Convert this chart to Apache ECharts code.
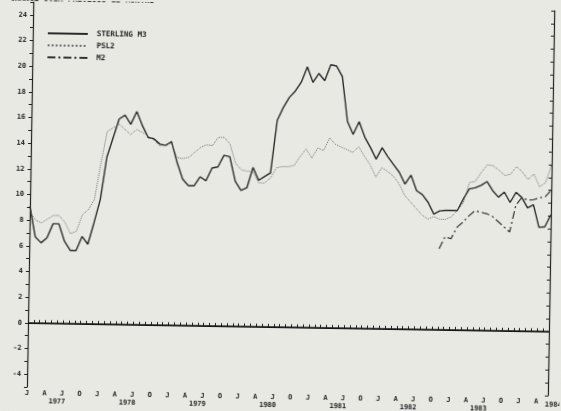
<!DOCTYPE html>
<html>
<head>
<meta charset="utf-8">
<script src="https://cdn.jsdelivr.net/npm/echarts@6/dist/echarts.min.js"></script>
<style>
html,body{margin:0;padding:0;background:#e9e9e4;overflow:hidden;}
/* the scan is tilted a little, so the whole chart is turned to match */
#chart-panel{width:561px;height:411px;transform:rotate(0.95deg);transform-origin:28px 323px;}
</style>
</head>
<body>
<div id="chart-panel"></div>
<script>
// tick letters and years
var monthLetters = ['J','F','M','A','M','J','J','A','S','O','N','D'];
var years = [1977, 1978, 1979, 1980, 1981, 1982, 1983, 1984];
var lastYearMonths = 6; // axis runs Jan 1977 .. Jun 1984

// % change over previous 12 months, monthly from Jan 1977
var sterlingM3 = [
    9.1, 6.7, 6.25, 6.65, 7.75, 7.75, 6.4, 5.7, 5.7, 6.8,
    6.2, 7.9, 9.7, 13.0, 14.5, 16.0, 16.3, 15.6, 16.6, 15.5,
    14.6, 14.5, 14.1, 14.0, 14.3, 12.7, 11.4, 10.9, 10.9, 11.6,
    11.3, 12.3, 12.4, 13.3, 13.2, 11.3, 10.6, 10.8, 12.4, 11.4,
    11.7, 12.0, 16.1, 17.1, 17.9, 18.4, 19.1, 20.3, 19.1, 19.8,
    19.25, 20.5, 20.4, 19.6, 16.1, 15.1, 16.1, 14.9, 14.1, 13.2,
    14.1, 13.4, 12.8, 12.2, 11.3, 12.0, 10.8, 10.5, 9.9, 9.0,
    9.25, 9.3, 9.3, 9.3, 10.2, 11.0, 11.1, 11.3, 11.6, 10.9,
    10.4, 10.8, 10.0, 10.8, 10.4, 9.6, 9.85, 8.1, 8.15, 9.1
];
var psl2 = [
    8.7, 8.0, 7.8, 8.1, 8.4, 8.4, 7.9, 7.0, 7.2, 8.5,
    8.9, 9.7, 12.5, 15.0, 15.3, 15.6, 15.2, 14.8, 15.2, 15.0,
    14.7, 14.4, 13.95, 14.05, 14.2, 13.05, 13.0, 13.1, 13.5, 13.9,
    14.1, 14.05, 14.7, 14.7, 14.2, 12.7, 12.2, 12.1, 12.05, 11.2,
    11.2, 11.6, 12.4, 12.5, 12.5, 12.6, 13.3, 13.9, 13.2, 14.0,
    13.8, 14.8, 14.3, 14.1, 13.9, 13.7, 14.15, 13.4, 12.75, 11.8,
    12.55, 12.25, 11.9, 11.3, 10.4, 9.9, 9.4, 8.9, 8.6, 8.8,
    8.6, 8.6, 8.8, 9.3, 9.9, 11.5, 11.6, 12.3, 12.9, 12.85,
    12.5, 12.1, 12.2, 12.8, 12.4, 11.8, 12.25, 11.25, 11.6, 13.0
];
var m2Start = 70; // M2 begins Nov 1982
var m2 = [
    6.3, 7.25, 7.1, 8.0, 8.4, 8.9, 9.3, 9.2, 9.1, 8.9,
    8.5, 8.1, 7.7, 9.8, 10.4, 10.2, 10.25, 10.4, 10.5, 11.0
];

// build month categories
var months = [];
years.forEach(function (y, i) {
    var n = (i == years.length - 1) ? lastYearMonths : 12;
    for (var k = 0; k < n; k++) months.push(y + '-' + (k + 1));
});
var m2Data = months.map(function (d, i) {
    return i >= m2Start ? m2[i - m2Start] : null;
});

var font = 'DejaVu Sans Mono';
var ink = '#232323';

var chart = echarts.init(document.getElementById('chart-panel'));
chart.setOption({
    backgroundColor: '#e9e9e4',
    animation: false,
    graphic: [{
        type: 'text', x: -5, y: -5,
        style: {text: '% CHANGE OVER PREVIOUS 12 MONTHS', font: 'bold 8px ' + font, fill: '#333'}
    }, {
        // year under the right end of the axis
        type: 'text', x: 546, y: 393,
        style: {text: String(years[years.length - 1]), font: 'bold 7px ' + font, fill: ink}
    }],
    legend: {
        orient: 'vertical', left: 37, top: 24,
        itemWidth: 40, itemHeight: 9, itemGap: 4,
        itemStyle: {opacity: 0},
        textStyle: {fontFamily: font, fontWeight: 'bold', fontSize: 7.5, color: ink, padding: [0, 0, 0, 4]},
        data: ['STERLING M3', 'PSL2', 'M2']
    },
    grid: {left: 28, right: 12, top: 2, bottom: 24},
    xAxis: {
        type: 'category',
        data: months,
        boundaryGap: false,
        axisLine: {lineStyle: {color: ink, width: 1.2}},
        axisTick: {inside: true, length: 3, interval: 0, lineStyle: {color: ink}},
        axisLabel: {
            interval: function (i) { return i % 3 == 0; },
            margin: 2,
            fontFamily: font, fontWeight: 'bold', fontSize: 7, color: ink, lineHeight: 8,
            formatter: function (val, i) {
                var mo = i % 12;
                var yr = years[Math.floor(i / 12)];
                if (mo == 6) return 'J\n{y|' + yr + '}';
                return monthLetters[mo];
            },
            rich: {
                y: {fontFamily: font, fontWeight: 'bold', fontSize: 7, color: ink, lineHeight: 8, padding: [0, 10, 0, 0]}
            }
        },
        splitLine: {show: false}
    },
    yAxis: [{
        type: 'value', min: -5, max: 25, interval: 1,
        axisLine: {show: true, lineStyle: {color: ink, width: 1.2}},
        axisTick: {show: true, length: 3, lineStyle: {color: ink}},
        axisLabel: {
            margin: 6, fontFamily: font, fontWeight: 'bold', fontSize: 7, color: ink,
            formatter: function (v) { return v % 2 == 0 ? String(v) : ''; }
        },
        splitLine: {show: false}
    }, {
        type: 'value', min: -5, max: 25, interval: 1, position: 'right',
        axisLine: {show: true, lineStyle: {color: ink, width: 1.2}},
        axisTick: {show: true, inside: true, length: 3, lineStyle: {color: ink}},
        axisLabel: {show: false},
        splitLine: {show: false}
    }],
    series: [{
        name: 'STERLING M3', type: 'line', data: sterlingM3,
        symbol: 'none', lineStyle: {color: '#2a2a2a', width: 1.4},
        itemStyle: {color: '#2a2a2a'},
        markLine: {
            silent: true, symbol: 'none', label: {show: false},
            lineStyle: {type: 'solid', color: '#111', width: 1.6},
            data: [{yAxis: 0}]
        }
    }, {
        name: 'PSL2', type: 'line', data: psl2,
        symbol: 'none', lineStyle: {color: '#6e6e6e', width: 1, type: 'dotted'},
        itemStyle: {color: '#6e6e6e'}
    }, {
        name: 'M2', type: 'line', data: m2Data,
        symbol: 'none', lineStyle: {color: '#333', width: 1.2, type: [8, 3, 2, 3]},
        itemStyle: {color: '#333'}
    }]
});
</script>
</body>
</html>
